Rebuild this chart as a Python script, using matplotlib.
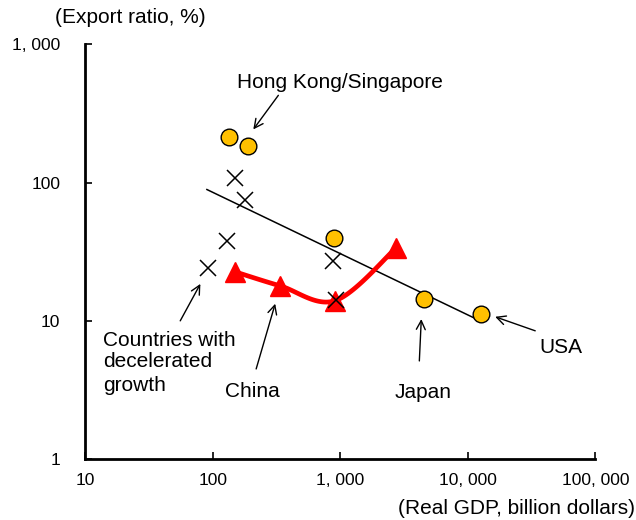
import numpy as np
import matplotlib
matplotlib.use("Agg")
import matplotlib.pyplot as plt
from matplotlib.ticker import FuncFormatter, FixedLocator, NullLocator

plt.rcParams['font.family'] = ['Liberation Sans', 'DejaVu Sans']

# orange circles: Hong Kong/Singapore, others, Japan, USA
circle_gdp = [134, 190, 900, 4560, 12800]
circle_ratio = [215, 185, 40, 14.4, 11.2]

# crosses: countries with decelerated growth
cross_gdp = [150, 180, 130, 91, 880, 930]
cross_ratio = [107, 75, 38, 24, 27, 14.2]

# China path
china_gdp = [150, 338, 914, 2750]
china_ratio = [22.6, 17.9, 14.0, 33.8]

# trend line end points
trend_gdp = [90, 12500]
trend_ratio = [89, 10]

x_ticks = [10, 100, 1000, 10000, 100000]
y_ticks = [1, 10, 100, 1000]


def catmull_rom(xs, ys, n=30):
    # smooth curve through points in log space (like Excel's smoothed line)
    px = np.log10(xs)
    py = np.log10(ys)
    pts = np.column_stack([px, py])
    pts = np.vstack([pts[0], pts, pts[-1]])
    out = []
    for i in range(1, len(pts) - 2):
        p0, p1, p2, p3 = pts[i - 1], pts[i], pts[i + 1], pts[i + 2]
        c1 = p1 + (p2 - p0) / 6
        c2 = p2 - (p3 - p1) / 6
        t = np.linspace(0, 1, n)[:, None]
        seg = ((1 - t) ** 3) * p1 + 3 * ((1 - t) ** 2) * t * c1 + 3 * (1 - t) * t ** 2 * c2 + t ** 3 * p2
        out.append(seg)
    out = np.vstack(out)
    return 10 ** out[:, 0], 10 ** out[:, 1]


fig = plt.figure(figsize=(6.36, 5.2), dpi=100)
ax = fig.add_axes([0.134, 0.117, 0.802, 0.798])

ax.set_xscale('log')
ax.set_yscale('log')
ax.set_xlim(10, 100000)
ax.set_ylim(1, 1000)

ax.plot(trend_gdp, trend_ratio, color='black', lw=1.1, zorder=2)

sx, sy = catmull_rom(china_gdp, china_ratio)
ax.plot(sx, sy, color='#ff0000', lw=3.4, zorder=3, solid_capstyle='round')
ax.plot(china_gdp, china_ratio, ls='none', marker='^', ms=15, color='#ff0000', zorder=4)

ax.plot(cross_gdp, cross_ratio, ls='none', marker='x', ms=11, mew=1.1, color='black', zorder=5)
ax.plot(circle_gdp, circle_ratio, ls='none', marker='o', ms=12, mfc='#ffc000', mec='black', mew=1.0, zorder=6)

fmt = FuncFormatter(lambda v, p: f"{int(round(v)):,}".replace(",", ", "))
ax.xaxis.set_major_locator(FixedLocator(x_ticks))
ax.yaxis.set_major_locator(FixedLocator(y_ticks))
ax.xaxis.set_minor_locator(NullLocator())
ax.yaxis.set_minor_locator(NullLocator())
ax.xaxis.set_major_formatter(fmt)
ax.yaxis.set_major_formatter(fmt)
ax.tick_params(direction='in', length=5, width=1.2, labelsize=12.5)
ax.tick_params(axis='x', pad=10)
ax.tick_params(axis='y', pad=18)

for s in ['top', 'right']:
    ax.spines[s].set_visible(False)
for s in ['left', 'bottom']:
    ax.spines[s].set_linewidth(2)

fs = 15
fig.text(0.086, 0.967, '(Export ratio, %)', fontsize=fs, ha='left', va='center')
fig.text(0.998, 0.023, '(Real GDP, billion dollars)', fontsize=fs, ha='right', va='center')

arrow = dict(arrowstyle='->', color='black', lw=1, mutation_scale=16, shrinkA=0, shrinkB=0)

ax.text(1000, 531, 'Hong Kong/Singapore', fontsize=fs, ha='center', va='center')
ax.annotate('', xy=(208, 242), xytext=(327, 427), arrowprops=arrow)

# three lines written separately so "growth" does not collide with "China"
for label, yv in zip(['Countries with', 'decelerated', 'growth'], [7.2, 5.05, 3.4]):
    ax.text(13.8, yv, label, fontsize=fs, ha='left', va='center')
ax.annotate('', xy=(80, 18.5), xytext=(55.6, 10), arrowprops=arrow)

ax.text(204, 3.11, 'China', fontsize=fs, ha='center', va='center')
ax.annotate('', xy=(309, 13.3), xytext=(219, 4.49), arrowprops=arrow)

ax.text(4480, 3.01, 'Japan', fontsize=fs, ha='center', va='center')
ax.annotate('', xy=(4320, 10.3), xytext=(4170, 5.13), arrowprops=arrow)

ax.text(54100, 6.37, 'USA', fontsize=fs, ha='center', va='center')
ax.annotate('', xy=(16400, 10.7), xytext=(33800, 8.47), arrowprops=arrow)

fig.savefig('out.png', dpi=100)
